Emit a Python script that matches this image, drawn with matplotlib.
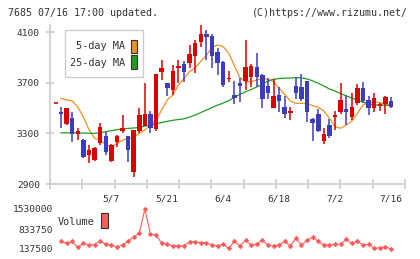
import matplotlib
matplotlib.use('Agg')
import matplotlib.pyplot as plt
from matplotlib.patches import Rectangle
import numpy as np

# candle data, 60 sessions ending 7/16
opens = [3472, 3375, 3420, 3292, 3250, 3130, 3090, 3228, 3280, 3082,
         3235, 3320, 3280, 2998, 3322, 3360, 3451, 3333, 3789, 3697,
         3644, 3820, 3847, 3855, 3915, 4026, 4087, 4071, 3942, 3868,
         3728, 3604, 3697, 3718, 3749, 3823, 3762, 3675, 3504, 3604,
         3512, 3462, 3675, 3665, 3715, 3414, 3451, 3240, 3367, 3430,
         3472, 3494, 3433, 3544, 3662, 3565, 3504, 3517, 3530, 3557]
highs = [3507, 3504, 3467, 3346, 3258, 3205, 3195, 3385, 3309, 3215,
         3290, 3446, 3280, 3330, 3502, 3698, 3478, 3770, 3881, 3697,
         3842, 3881, 3873, 4000, 4040, 4158, 4118, 4084, 3979, 3873,
         3794, 3715, 3736, 4039, 3847, 3934, 3768, 3736, 3728, 3670,
         3599, 3512, 3749, 3768, 3715, 3420, 3493, 3340, 3414, 3478,
         3696, 3604, 3617, 3689, 3704, 3596, 3617, 3544, 3599, 3591]
lows = [3345, 3367, 3235, 3252, 3103, 3070, 3085, 3206, 3130, 3077,
        3196, 3301, 3077, 2958, 3305, 3355, 3301, 3320, 3723, 3597,
        3604, 3700, 3710, 3820, 3781, 3987, 3884, 3815, 3762, 3670,
        3705, 3530, 3551, 3644, 3670, 3670, 3499, 3573, 3499, 3472,
        3425, 3407, 3573, 3557, 3393, 3240, 3309, 3219, 3261, 3327,
        3451, 3367, 3406, 3525, 3538, 3446, 3467, 3478, 3451, 3499]
closes = [3456, 3499, 3298, 3319, 3111, 3170, 3188, 3350, 3156, 3209,
          3280, 3340, 3169, 3327, 3446, 3451, 3340, 3770, 3815, 3662,
          3794, 3826, 3784, 3926, 4013, 4087, 4066, 3915, 3855, 3683,
          3742, 3583, 3678, 3823, 3834, 3749, 3573, 3623, 3596, 3557,
          3451, 3470, 3623, 3573, 3472, 3380, 3319, 3293, 3283, 3438,
          3565, 3472, 3512, 3662, 3557, 3504, 3583, 3533, 3591, 3512]

ma5 = [3578, 3565, 3557, 3510, 3430, 3330, 3262, 3248, 3212, 3196,
       3220, 3246, 3260, 3270, 3300, 3327, 3367, 3407, 3486, 3565,
       3604, 3683, 3736, 3789, 3820, 3870, 3920, 3980, 4000, 3987,
       3934, 3836, 3741, 3710, 3710, 3723, 3736, 3728, 3710, 3657,
       3610, 3557, 3538, 3538, 3536, 3520, 3507, 3478, 3420, 3354,
       3341, 3367, 3399, 3459, 3525, 3544, 3551, 3544, 3530, 3525]
ma25 = [3305, 3305, 3305, 3305, 3303, 3301, 3301, 3305, 3314, 3322,
        3330, 3336, 3340, 3343, 3348, 3358, 3368, 3378, 3386, 3396,
        3404, 3410, 3416, 3430, 3446, 3465, 3485, 3505, 3524, 3540,
        3560, 3585, 3610, 3630, 3647, 3668, 3690, 3715, 3728, 3735,
        3737, 3739, 3741, 3740, 3731, 3716, 3697, 3675, 3652, 3636,
        3615, 3597, 3580, 3563, 3548, 3533, 3527, 3525, 3524, 3520]

volume = [400000, 336000, 400000, 190000, 336000, 277000, 294000, 406000, 301000, 277000,
          207000, 277000, 406000, 566000, 684000, 1530000, 649000, 625000, 346000, 311000,
          242000, 259000, 242000, 392000, 381000, 357000, 357000, 277000, 242000, 301000,
          155000, 406000, 252000, 440000, 277000, 311000, 451000, 277000, 242000, 277000,
          406000, 242000, 510000, 277000, 440000, 545000, 406000, 277000, 277000, 301000,
          301000, 475000, 336000, 406000, 277000, 301000, 162000, 183000, 218000, 137500]

prev_close = 3540
date_pos = [9, 19, 29, 39, 49, 59]
date_labels = ['5/7', '5/21', '6/4', '6/18', '7/2', '7/16']
price_ticks = [2900, 3300, 3700, 4100]
vol_ticks = [137500, 833750, 1530000]

RED = '#dd0000'
BLUE = '#3c3cc0'
ORANGE = '#f0901e'
GREEN = '#1ca01c'
VOLC = '#ff5c5c'
GRID = '#cccccc'
TXT = '#333333'
MONO = 'DejaVu Sans Mono'

W, H = 420, 259
fig = plt.figure(figsize=(W / 100, H / 100), dpi=100)

def fx(px):
    return px / W

def fy(py):
    return 1 - py / H

x = np.arange(len(closes))
xlim = (-11 / 5.593, 344 / 5.593)

# price panel
ax = fig.add_axes([fx(50), fy(184), fx(355), 159 / H])
ax.set_xlim(*xlim)
ax.set_ylim(2900, 4158)
for s in ['top', 'right']:
    ax.spines[s].set_visible(False)
for s in ['left', 'bottom']:
    ax.spines[s].set_color(GRID)
    ax.spines[s].set_linewidth(1.2)

ax.plot(x, ma5, color=ORANGE, lw=0.9, zorder=1)
ax.plot(x, ma25, color=GREEN, lw=0.9, zorder=1)

o = np.array(opens)
c = np.array(closes)
cols = [RED if cc >= oo else BLUE for oo, cc in zip(o, c)]
ax.vlines(x, lows, highs, colors=cols, lw=1.1, zorder=2)
ax.bar(x, np.maximum(np.abs(c - o), 14), bottom=np.minimum(o, c), width=0.8,
       color=cols, linewidth=0, zorder=3)
ax.hlines(prev_close, -1.25, -0.5, colors=RED, lw=1.2, zorder=3)

ax.set_xticks(np.linspace(xlim[0], xlim[1], 12))
ax.set_xticklabels([])
ax.tick_params(axis='x', which='major', direction='inout', length=6.5, width=1.2, color=GRID)
ax.set_xticks(date_pos, minor=True)
ax.set_xticklabels(date_labels, minor=True)
ax.tick_params(axis='x', which='minor', length=0, pad=7.5, labelsize=6.8, labelcolor=TXT)
ax.set_yticks(price_ticks)
ax.set_yticklabels([str(t) for t in price_ticks])
ax.tick_params(axis='y', direction='inout', length=6, width=1.2, color=GRID, pad=4.3,
               labelsize=6.8, labelcolor=TXT)
for lab in ax.get_xticklabels(minor=True) + ax.get_yticklabels():
    lab.set_family(MONO)

# volume panel
ax2 = fig.add_axes([fx(50), fy(253), fx(355), 48 / H])
ax2.set_xlim(*xlim)
ax2.set_ylim(-1750, 1669250)
for s in ax2.spines.values():
    s.set_visible(False)
ax2.plot(x, volume, color=VOLC, lw=0.8, marker='D', ms=2.8, mew=0)
ax2.set_xticks([])
ax2.set_yticks(vol_ticks)
ax2.set_yticklabels([str(t) for t in vol_ticks])
ax2.tick_params(axis='y', length=0, pad=-2.2, labelsize=6.8, labelcolor=TXT)
for lab in ax2.get_yticklabels():
    lab.set_family(MONO)

# legends
fig.patches.append(Rectangle((fx(65), fy(77)), fx(78), 47 / H, transform=fig.transFigure,
                             facecolor='white', edgecolor=GRID, lw=1, zorder=5))
fig.text(fx(125), fy(46), '5-day MA', ha='right', va='center', size=7.4, color=TXT,
         family=MONO, zorder=6)
fig.text(fx(125), fy(63), '25-day MA', ha='right', va='center', size=7.4, color=TXT,
         family=MONO, zorder=6)
fig.patches.append(Rectangle((fx(131), fy(53)), fx(6), 13 / H, transform=fig.transFigure,
                             facecolor=ORANGE, edgecolor=TXT, lw=0.8, zorder=6))
fig.patches.append(Rectangle((fx(131), fy(69)), fx(6), 14 / H, transform=fig.transFigure,
                             facecolor=GREEN, edgecolor=TXT, lw=0.8, zorder=6))

fig.text(fx(58), fy(222), 'Volume', ha='left', va='center', size=7.4, color=TXT, family=MONO)
fig.patches.append(Rectangle((fx(101), fy(228)), fx(7), 15 / H, transform=fig.transFigure,
                             facecolor=VOLC, edgecolor=TXT, lw=0.8))

# header
fig.text(fx(8), fy(13), '7685 07/16 17:00 updated.', ha='left', va='center', size=7.2,
         color=TXT, family=MONO)
fig.text(fx(408), fy(13), '(C)https://www.rizumu.net/', ha='right', va='center', size=7.2,
         color=TXT, family=MONO)
fig.text(fx(21), fy(24), '....', ha='left', va='center', size=4, color='#aaaaaa', family=MONO)

fig.savefig('out.png', dpi=100)
